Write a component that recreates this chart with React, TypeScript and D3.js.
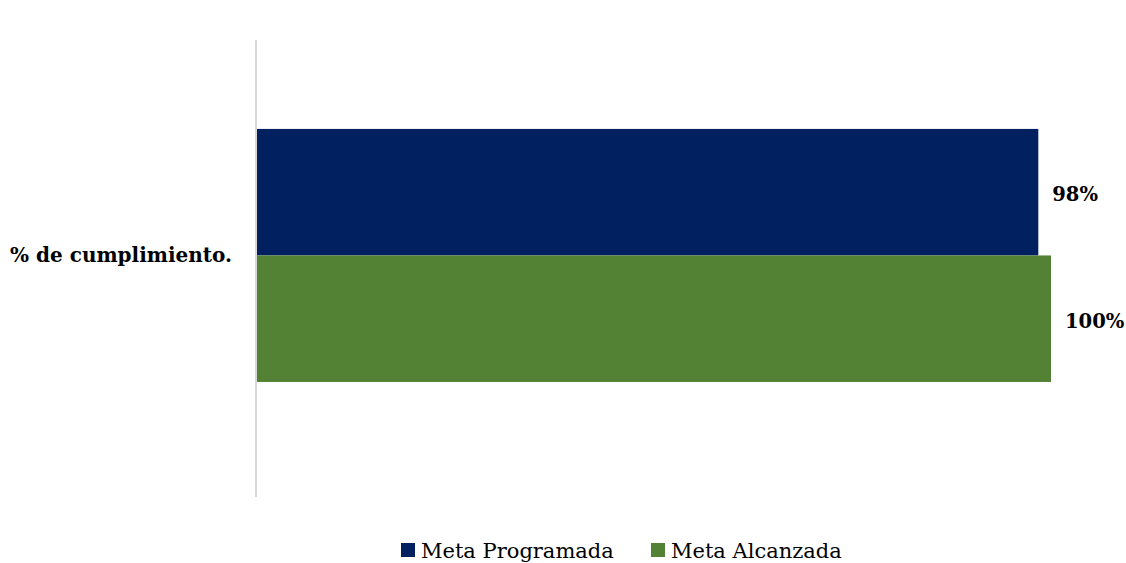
import React from "react";
import * as d3 from "d3";

const categories = ["% de cumplimiento."];
const seriesNames = ["Meta Programada", "Meta Alcanzada"];
const seriesColors = ["#002060", "#548235"];
const metaProgramada = [0.984];
const metaAlcanzada = [1.0];
const valueLabels = [["98%"], ["100%"]];

export default function App() {
  const W = 1126, H = 563;
  const left = 257, right = 1051;
  const top = 40, bottom = 497;
  const x = d3.scaleLinear().domain([0, 1]).range([left, right]);
  const y = d3.scaleBand().domain(categories).range([top, bottom]).paddingInner(0).paddingOuter(0.403).align(0.436);
  const inner = d3.scaleBand().domain(seriesNames).range([0, y.bandwidth()]);
  const series = [metaProgramada, metaAlcanzada];
  const font = "'DejaVu Serif', serif";
  return (
    <svg width={W} height={H} style={{ position: "absolute", left: 0, top: 0 }}>
      <rect width={W} height={H} fill="#fff" />
      {categories.map((c, ci) => (
        <g key={c}>
          {series.map((s, si) => {
            const yy = (y(c) as number) + (inner(seriesNames[si]) as number);
            return (
              <g key={si}>
                <rect x={x(0)} y={yy} width={x(s[ci]) - x(0)} height={inner.bandwidth()} fill={seriesColors[si]} />
                <text x={x(s[ci]) + 14} y={yy + inner.bandwidth() / 2 + 9} fontFamily={font} fontWeight="bold" fontSize={19.5} fill="#000">
                  {valueLabels[si][ci]}
                </text>
              </g>
            );
          })}
          <text x={232} y={(y(c) as number) + y.bandwidth() / 2 + 7} textAnchor="end" fontFamily={font} fontWeight="bold" fontSize={20} fill="#000">
            {c}
          </text>
        </g>
      ))}
      <line x1={256} x2={256} y1={top} y2={bottom} stroke="#d9d9d9" strokeWidth={2} />
      {seriesNames.map((n, i) => {
        const lx = [401, 651][i];
        return (
          <g key={n}>
            <rect x={lx} y={543} width={14} height={14} fill={seriesColors[i]} />
            <text x={lx + 20} y={558} fontFamily={font} fontSize={21} fill="#000">{n}</text>
          </g>
        );
      })}
    </svg>
  );
}
